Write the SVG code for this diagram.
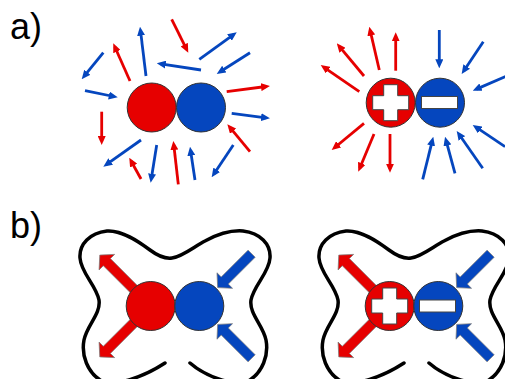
<svg xmlns="http://www.w3.org/2000/svg" width="505" height="379" viewBox="0 0 505 379">
<defs>
<style>
.lbl{font-family:"Liberation Sans",Arial,sans-serif;font-size:36px;fill:#000}
.r{stroke:#E60000;stroke-width:2.8;fill:none;marker-end:url(#hr)}
.b{stroke:#0546BE;stroke-width:2.8;fill:none;marker-end:url(#hb)}
.cr{fill:#E60000;stroke:#333;stroke-width:1}
.cb{fill:#0546BE;stroke:#333;stroke-width:1}
.sym{fill:#fff;stroke:#444;stroke-width:1}
.blob{fill:none;stroke:#000;stroke-width:3.5;stroke-linecap:round}
.far{fill:#E60000;stroke:#7a7a7a;stroke-width:0.7}
.fab{fill:#0546BE;stroke:#7a7a7a;stroke-width:0.7}
</style>
<marker id="hr" markerUnits="userSpaceOnUse" markerWidth="9" markerHeight="8" refX="5" refY="4" orient="auto"><path d="M0,0 L9,4 L0,8 z" fill="#E60000"/></marker>
<marker id="hb" markerUnits="userSpaceOnUse" markerWidth="9" markerHeight="8" refX="5" refY="4" orient="auto"><path d="M0,0 L9,4 L0,8 z" fill="#0546BE"/></marker>
<path id="plus" class="sym" d="M-7,-18 h14 v11 h11 v14 h-11 v11 h-14 v-11 h-11 v-14 h11 z"/>
<rect id="minus" class="sym" x="-18" y="-6" width="36" height="12"/>
<path id="outArrow" d="M0,-5 L62,-5 L62,-11 L72,0 L62,11 L62,5 L0,5 Z"/>
<path id="inArrow" d="M74,-5 L36,-5 L36,-11 L26,0 L36,11 L36,5 L74,5 Z"/>
<path id="blobPath" class="blob" d="M165,363 C145,376 115,388 100,380 C88,372 81,356 84,340 C87,325 101,314 99,300 C96,285 81,273 80,258 C79,244 90,233 107,231 C122,230 138,241 150,250 C158,256 165,259 172,258 C182,257 195,246 205,241 C218,234 230,230 243,231 C260,233 271,244 270,258 C269,273 254,285 251,300 C249,314 263,325 266,340 C269,356 262,372 250,380 C235,388 205,376 190,363"/>
</defs>
<rect width="505" height="379" fill="#fff"/>
<text class="lbl" x="10" y="39">a)</text>
<text class="lbl" x="10" y="238">b)</text>

<g id="connectors">
 <g id="a-left-field">
  <line class="b" x1="103.3" y1="52.7" x2="84.2" y2="76.2"/>
  <line class="r" x1="130" y1="81" x2="114.9" y2="47"/>
  <line class="b" x1="146" y1="76" x2="140.5" y2="30.7"/>
  <line class="r" x1="171.7" y1="19.3" x2="186.5" y2="49.1"/>
  <line class="b" x1="199.3" y1="59.3" x2="233.5" y2="34.6"/>
  <line class="b" x1="201" y1="70" x2="160.7" y2="63.9"/>
  <line class="b" x1="250" y1="52.7" x2="220.1" y2="71.8"/>
  <line class="b" x1="85" y1="90.7" x2="113.8" y2="96.5"/>
  <line class="r" x1="226.7" y1="91.7" x2="266" y2="86.5"/>
  <line class="b" x1="231.7" y1="113.3" x2="266" y2="117.8"/>
  <line class="r" x1="101.7" y1="111.7" x2="101.7" y2="141"/>
  <line class="b" x1="141" y1="140" x2="106.6" y2="164.4"/>
  <line class="r" x1="141" y1="179" x2="131.2" y2="161.2"/>
  <line class="b" x1="156.7" y1="145" x2="151.3" y2="178.8"/>
  <line class="r" x1="178.3" y1="184.3" x2="173.8" y2="145"/>
  <line class="b" x1="195" y1="180" x2="190.6" y2="150.7"/>
  <line class="b" x1="233.3" y1="145" x2="213.9" y2="174"/>
  <line class="r" x1="250" y1="151.7" x2="229.9" y2="127.4"/>
 </g>
 <g id="a-right-field">
  <line class="r" x1="359.3" y1="91.7" x2="324" y2="67.3"/>
  <line class="r" x1="364" y1="76" x2="339.3" y2="46.4"/>
  <line class="r" x1="379.3" y1="70" x2="370.2" y2="30.6"/>
  <line class="r" x1="395.7" y1="70.7" x2="395.7" y2="36.3"/>
  <line class="r" x1="364" y1="123.3" x2="334.8" y2="147.5"/>
  <line class="r" x1="374" y1="134" x2="359.8" y2="168"/>
  <line class="r" x1="390" y1="134" x2="390" y2="168.7"/>
  <line class="b" x1="439.3" y1="30" x2="439.3" y2="64.3"/>
  <line class="b" x1="483.3" y1="41.7" x2="463.9" y2="70.7"/>
  <line class="b" x1="508" y1="75.4" x2="476.4" y2="89.1"/>
  <line class="b" x1="505" y1="146.7" x2="476" y2="127.2"/>
  <line class="b" x1="482.7" y1="168.3" x2="459" y2="134.3"/>
  <line class="b" x1="455" y1="173.3" x2="446.1" y2="140.6"/>
  <line class="b" x1="422.7" y1="179.3" x2="432.3" y2="140.6"/>
 </g>
 <g id="b-left-arrows">
  <use href="#outArrow" class="far" transform="translate(150.7,306) rotate(-135)"/>
  <use href="#outArrow" class="far" transform="translate(150.7,306) rotate(135)"/>
  <use href="#inArrow" class="fab" transform="translate(199.3,306) rotate(-45)"/>
  <use href="#inArrow" class="fab" transform="translate(199.3,306) rotate(45)"/>
 </g>
 <g id="b-right-arrows">
  <use href="#outArrow" class="far" transform="translate(389.7,306) rotate(-135)"/>
  <use href="#outArrow" class="far" transform="translate(389.7,306) rotate(135)"/>
  <use href="#inArrow" class="fab" transform="translate(438.3,306) rotate(-45)"/>
  <use href="#inArrow" class="fab" transform="translate(438.3,306) rotate(45)"/>
 </g>
</g>

<g id="blob-left"><use href="#blobPath"/></g>
<g id="blob-right"><use href="#blobPath" transform="translate(239,0)"/></g>

<g id="a-left-red"><circle class="cr" cx="151.7" cy="107.5" r="24.5"/></g>
<g id="a-left-blue"><circle class="cb" cx="201" cy="107.5" r="24.5"/></g>
<g id="a-right-plus"><circle class="cr" cx="390.7" cy="102.7" r="24.5"/><use href="#plus" transform="translate(390.7,102.7)"/></g>
<g id="a-right-minus"><circle class="cb" cx="440" cy="102.7" r="24.5"/><use href="#minus" transform="translate(439.5,102.5)"/></g>
<g id="b-left-red"><circle class="cr" cx="150.7" cy="306" r="24.5"/></g>
<g id="b-left-blue"><circle class="cb" cx="199.3" cy="306" r="24.5"/></g>
<g id="b-right-plus"><circle class="cr" cx="389.7" cy="306" r="24.5"/><use href="#plus" transform="translate(389.7,306)"/></g>
<g id="b-right-minus"><circle class="cb" cx="438.3" cy="306" r="24.5"/><use href="#minus" transform="translate(437.5,306)"/></g>
</svg>
